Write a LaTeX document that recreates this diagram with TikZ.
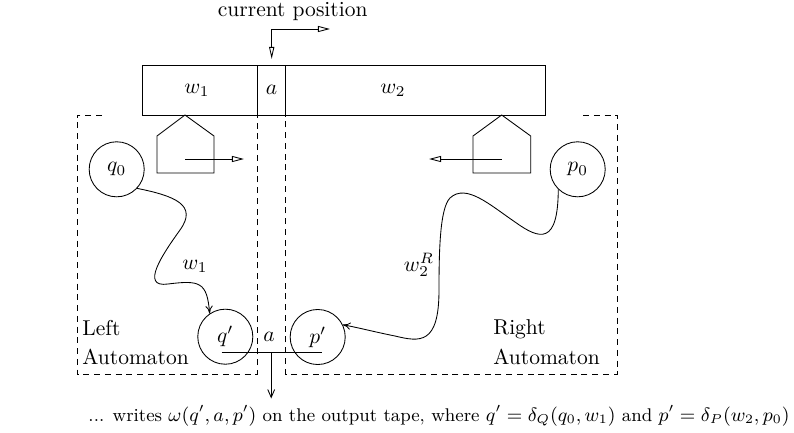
\documentclass[tikz,border=0pt]{standalone}
\usetikzlibrary{arrows.meta}
\begin{document}
\begin{tikzpicture}[x=0.465pt,y=-0.465pt,
  state/.style={draw,circle,minimum size=25.6pt,inner sep=0pt},
  dsh/.style={dash pattern=on 2.8pt off 2.2pt},
  headarrow/.style={-{Triangle[open,length=5.6pt,width=2.8pt]}},
  barb/.style={-{To[length=3.6pt,width=3.4pt]}},
  lbl/.style={inner sep=0pt}]
\useasboundingbox (0,0) rectangle (794,432);
% tape
\draw (142,65) rectangle (257.3,115);
\draw (257.3,65) rectangle (285.7,115);
\draw (285.7,65) rectangle (545,115);
\node (tw1) at (197,90) {$w_1$};
\node (ta) at (271.5,90) {$a$};
\node (tw2) at (393,90) {$w_2$};
% current position
\node[anchor=base] (cur) at (292.7,16.5) {current position};
\coordinate (c1) at (271.7,59);
\coordinate (c2) at (271.7,29);
\coordinate (c3) at (330,29);
\draw[{Triangle[open,length=5.6pt,width=2.4pt]}-{Triangle[open,length=5.6pt,width=2.8pt]}] (c1) -- (c2) -- (c3);
% dashed boxes
\draw[dsh] (102,115) -- (77,115) -- (77,374) -- (257.3,374) -- (257.3,115);
\draw[dsh] (583,115) -- (617,115) -- (617,374) -- (285.7,374) -- (285.7,115);
% heads
\draw (185,115) -- (214,136) -- (214,173) -- (157,173) -- (157,136) -- cycle;
\draw[headarrow] (185,159) -- (244,159);
\draw (501.7,115) -- (530.7,136) -- (530.7,173) -- (473,173) -- (473,136) -- cycle;
\draw[headarrow] (501.7,159) -- (429,159);
% states
\node[state] (q0) at (116.7,169.3) {$q_0$};
\node[state] (p0) at (577.7,169.3) {$p_0$};
\node[state] (qp) at (225.3,336.7) {$q'$};
\node[state] (pp) at (317.7,337) {$p'$};
\node (am) at (269,337) {$a$};
% curves
\draw[barb] (q0.-43) .. controls (175,196) and (198,205) .. (180,230)
  .. controls (162,255) and (140,288) .. (168,284)
  .. controls (200,280) and (207,282) .. (qp.124);
\node (lw1) at (195,266) {$w_1$};
\draw[barb] (p0.-134) .. controls (558,245) and (540,240) .. (515,222)
  .. controls (490,205) and (466,183) .. (450,198)
  .. controls (440,208) and (439,250) .. (439,290)
  .. controls (439,345) and (420,342) .. (395,336)
  .. controls (375,332) and (360,328) .. (pp.26);
\node[lbl] (lw2) at (419,265) {$w_2^R$};
% output
\coordinate (h1) at (221.7,352.7);
\coordinate (h2) at (321.7,352.7);
\coordinate (hm) at (271.2,352.7);
\draw (h1) -- (h2);
\node[anchor=base,font=\fontsize{8.55}{10.3}\selectfont] (out) at (439,421) {... writes $\omega(q',a,p')$ on the output tape, where $q'=\delta_Q(q_0,w_1)$ and $p'=\delta_P(w_2,p_0)$};
\draw[-{Straight Barb[length=3.7pt,width=3.2pt]}] (hm) -- (271.2,398.5);
% side labels
\node[anchor=base west,lbl] (l1) at (82,335) {Left};
\node[anchor=base west,lbl] (l2) at (82,364) {Automaton};
\node[anchor=base west,lbl] (r1) at (493,334) {Right};
\node[anchor=base west,lbl] (r2) at (493,364) {Automaton};
\end{tikzpicture}
\end{document}
